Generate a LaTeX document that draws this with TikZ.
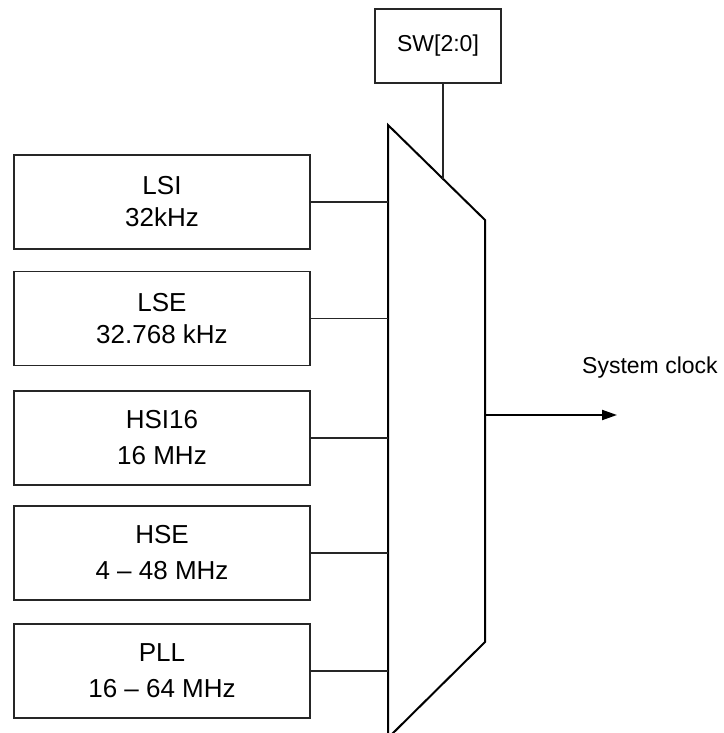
\documentclass[tikz,border=0pt]{standalone}
\usepackage{fontspec}
\setmainfont{Liberation Sans}
\usetikzlibrary{arrows.meta}
\begin{document}
\begin{tikzpicture}[x=1pt,y=-1pt,
  srcbox/.style={draw=black!85, line width=1.1pt, minimum width=296pt, minimum height=94pt, align=center, inner sep=0pt},
  bigfont/.style={font=\fontsize{26}{32}\selectfont},
  widefont/.style={font=\fontsize{26}{36}\selectfont},
  smallfont/.style={font=\fontsize{23}{27}\selectfont},
  wire/.style={draw=black!85, line width=1.1pt},
  muxline/.style={draw=black, line width=2pt, line join=miter},
  outarrow/.style={draw=black, line width=2pt, -{Triangle[length=15pt,width=10pt]}}
]
\useasboundingbox (0,0) rectangle (723,733);
% sources
\node[srcbox, bigfont]  (lsi) at (162,202)   {LSI\\32kHz};
\node[srcbox, bigfont]  (lse) at (162,318.5) {LSE\\32.768 kHz};
\node[srcbox, widefont] (hsi) at (162,438)   {HSI16\\16 MHz};
\node[srcbox, widefont] (hse) at (162,553)   {HSE\\4 -- 48 MHz};
\node[srcbox, widefont] (pll) at (162,671)   {PLL\\16 -- 64 MHz};
% mux
\coordinate (muxtl) at (388,125);
\coordinate (muxtr) at (485,220);
\coordinate (muxbr) at (485,642);
\coordinate (muxbl) at (388,738);
\draw[muxline] (muxbl) -- (muxtl) -- (muxtr) -- (muxbr) -- (muxbl);
% select
\node[draw=black!85, line width=1.1pt, minimum width=126pt, minimum height=74pt, inner sep=0pt, smallfont] (sw) at (438,46) {SW[2:0]};
\coordinate (swin) at (443,179);
\draw[wire] (sw.south -| swin) -- (swin);
% inputs
\foreach \s in {lsi,lse,hsi,hse,pll}{
  \draw[wire] (\s.east) -- (\s.east -| muxtl);
}
% output
\coordinate (outsrc) at (485,415);
\coordinate (outend) at (617,415);
\draw[outarrow] (outsrc) -- (outend);
\node[anchor=base west, inner sep=0pt, smallfont] (sysclk) at (582,373) {System clock};
\end{tikzpicture}
\end{document}
